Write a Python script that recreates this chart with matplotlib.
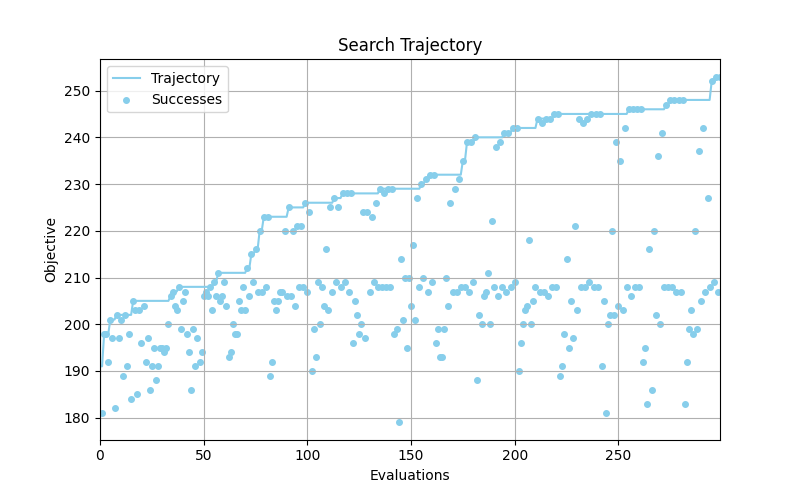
"""
Search trajectory plot: objective of every successful evaluation plus the
best-so-far trajectory (starts from the initial solution's objective).
"""

import numpy as np
import matplotlib
matplotlib.use("Agg")
import matplotlib.pyplot as plt

# Objective of the initial solution (trajectory value at evaluation 0)
start_objective = 191

# Objective per evaluation in blocks of 50
objective_001_050 = [
    181, 198, 198, 192, 201, 197, 182, 202, 197, 201,
    189, 202, 191, 198, 184, 205, 203, 185, 203, 196,
    204, 192, 197, 186, 191, 195, 188, 191, 195, 195,
    194, 195, 200, 206, 207, 204, 203, 208, 199, 205,
    207, 198, 194, 186, 199, 191, 197, 192, 194, 206,
]
objective_051_100 = [
    207, 206, 208, 203, 209, 206, 211, 205, 206, 209,
    204, 193, 194, 200, 198, 198, 205, 203, 208, 203,
    212, 206, 215, 209, 216, 207, 220, 207, 223, 208,
    223, 189, 192, 205, 203, 205, 207, 207, 220, 206,
    225, 206, 220, 204, 221, 208, 221, 208, 226, 207,
]
objective_101_150 = [
    224, 190, 199, 193, 209, 200, 208, 204, 216, 203,
    225, 207, 227, 209, 225, 208, 228, 209, 228, 207,
    228, 196, 205, 202, 198, 200, 224, 197, 224, 207,
    223, 209, 226, 208, 229, 208, 228, 208, 229, 208,
    229, 198, 199, 179, 214, 201, 210, 195, 210, 204,
]
objective_151_200 = [
    217, 201, 227, 208, 230, 210, 231, 207, 232, 209,
    232, 196, 199, 193, 193, 199, 210, 204, 226, 207,
    229, 207, 231, 208, 235, 208, 239, 207, 239, 209,
    240, 188, 202, 200, 206, 207, 211, 200, 222, 208,
    238, 206, 239, 208, 241, 207, 241, 208, 242, 209,
]
objective_201_250 = [
    242, 190, 196, 200, 203, 204, 218, 200, 205, 208,
    244, 207, 243, 207, 244, 206, 244, 208, 245, 208,
    245, 189, 191, 198, 214, 195, 205, 197, 221, 203,
    244, 208, 243, 208, 244, 209, 245, 208, 245, 208,
    245, 191, 205, 181, 200, 202, 220, 202, 239, 204,
]
objective_251_299 = [
    235, 203, 242, 208, 246, 206, 246, 208, 246, 208,
    246, 192, 195, 183, 216, 186, 220, 202, 236, 200,
    241, 208, 247, 208, 248, 208, 248, 207, 248, 207,
    248, 183, 192, 199, 203, 198, 220, 199, 237, 205,
    242, 207, 227, 208, 252, 209, 253, 207, 253,
]

COLOR = "skyblue"

# Assemble series

objectives = np.array(objective_001_050 + objective_051_100 + objective_101_150
                      + objective_151_200 + objective_201_250 + objective_251_299)
evals = np.arange(1, len(objectives) + 1)

# best-so-far, including the initial solution at evaluation 0
trajectory = np.maximum.accumulate(np.concatenate([[start_objective], objectives]))
traj_x = np.arange(len(trajectory))

# Plot

fig, ax = plt.subplots(figsize=(8, 4.94), dpi=100)

ax.plot(traj_x, trajectory, color=COLOR, linewidth=1.5, label="Trajectory")
ax.scatter(evals, objectives, color=COLOR, s=16, label="Successes")

ax.set_xlim(0, traj_x[-1])
ax.set_title("Search Trajectory")
ax.set_xlabel("Evaluations")
ax.set_ylabel("Objective")
ax.grid(True)
ax.legend(loc="upper left")

fig.savefig("out.png", dpi=100)
plt.close(fig)
